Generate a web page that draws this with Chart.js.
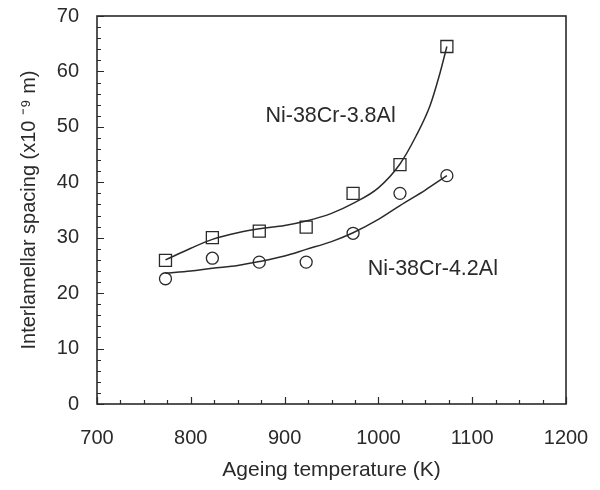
<!DOCTYPE html>
<html lang="en">
<head>
    <meta charset="UTF-8" />
    <title>Interlamellar spacing vs ageing temperature</title>
    <script src="https://cdn.jsdelivr.net/npm/chart.js"></script>
    <style>
        html, body { margin: 0; padding: 0; background: #fff; }
        #wrap { width: 600px; height: 490px; }
    </style>
</head>
<body>
    <div id="wrap"><canvas id="spacingChart" width="600" height="490"></canvas></div>

    <script>
        // ageing temperatures of the measured samples (K)
        const temps = [773, 823, 873, 923, 973, 1023, 1073];
        const al38Points = [25.9, 30.0, 31.2, 31.9, 38.0, 43.2, 64.5];
        const al42Points = [22.6, 26.3, 25.6, 25.6, 30.8, 38.0, 41.2];

        // fitted curves
        const al38CurveT = [773, 800, 823, 850, 873, 900, 923, 950, 973, 1000, 1023, 1040, 1055, 1065, 1073];
        const al38CurveY = [26.0, 28.1, 29.7, 30.9, 31.6, 32.2, 33.0, 34.4, 36.2, 39.0, 43.3, 48.3, 53.8, 59.3, 64.5];
        const al42CurveT = [773, 800, 823, 850, 873, 900, 923, 950, 973, 1000, 1023, 1050, 1073];
        const al42CurveY = [23.6, 24.0, 24.5, 25.0, 25.7, 26.7, 27.9, 29.3, 30.9, 33.3, 35.8, 38.6, 41.2];

        const seriesNames = ["Ni-38Cr-3.8Al", "Ni-38Cr-4.2Al"];
        const labelAt = [[949, 52], [1058, 24.3]];

        const ink = "#2a2a2a";
        const fontFamily = "'Liberation Sans', Arial, sans-serif";

        const toXY = (xs, ys) => xs.map((x, i) => ({ x: x, y: ys[i] }));

        // keep the plot box where the figure has it
        function noOverflow(scale) {
            scale.paddingTop = 0;
            scale.paddingBottom = 0;
            scale.paddingLeft = 0;
            scale.paddingRight = 0;
        }

        // frame, inward ticks and curve labels
        const framePlugin = {
            id: "frame",
            afterDraw(chart) {
                const { ctx, chartArea: a, scales } = chart;
                const xs = scales.x, ys = scales.y;
                ctx.save();
                ctx.strokeStyle = ink;
                ctx.lineWidth = 1.6;
                ctx.strokeRect(a.left, a.top, a.right - a.left, a.bottom - a.top);

                ctx.lineWidth = 1.2;
                ctx.beginPath();
                for (let v = 700; v <= 1200; v += 25) {
                    const px = Math.round(xs.getPixelForValue(v)) + 0.5;
                    const len = v % 100 === 0 ? 7 : 4;
                    ctx.moveTo(px, a.bottom);
                    ctx.lineTo(px, a.bottom - len);
                }
                for (let v = 0; v <= 70; v += 2) {
                    const py = Math.round(ys.getPixelForValue(v)) + 0.5;
                    const len = v % 10 === 0 ? 7 : 4;
                    ctx.moveTo(a.left, py);
                    ctx.lineTo(a.left + len, py);
                }
                ctx.stroke();

                ctx.fillStyle = ink;
                ctx.font = "21.5px " + fontFamily;
                ctx.textAlign = "center";
                ctx.textBaseline = "middle";
                seriesNames.forEach((name, i) => {
                    ctx.fillText(name, xs.getPixelForValue(labelAt[i][0]), ys.getPixelForValue(labelAt[i][1]));
                });
                ctx.restore();
            }
        };

        const ctx = document.getElementById("spacingChart").getContext("2d");
        new Chart(ctx, {
            type: "scatter",
            data: {
                datasets: [
                    {
                        label: seriesNames[0] + " fit",
                        data: toXY(al38CurveT, al38CurveY),
                        showLine: true,
                        borderColor: ink,
                        borderWidth: 1.5,
                        pointRadius: 0,
                        cubicInterpolationMode: "monotone"
                    },
                    {
                        label: seriesNames[1] + " fit",
                        data: toXY(al42CurveT, al42CurveY),
                        showLine: true,
                        borderColor: ink,
                        borderWidth: 1.5,
                        pointRadius: 0,
                        cubicInterpolationMode: "monotone"
                    },
                    {
                        label: seriesNames[0],
                        data: toXY(temps, al38Points),
                        pointStyle: "rect",
                        pointRadius: 8.5,
                        pointBorderWidth: 1.3,
                        pointBorderColor: ink,
                        pointBackgroundColor: "rgba(255,255,255,0)"
                    },
                    {
                        label: seriesNames[1],
                        data: toXY(temps, al42Points),
                        pointStyle: "circle",
                        pointRadius: 6,
                        pointBorderWidth: 1.3,
                        pointBorderColor: ink,
                        pointBackgroundColor: "rgba(255,255,255,0)"
                    }
                ]
            },
            options: {
                responsive: false,
                animation: false,
                layout: { padding: { top: 16, right: 34, left: 0, bottom: 0 } },
                plugins: {
                    legend: { display: false },
                    tooltip: { enabled: false }
                },
                scales: {
                    x: {
                        type: "linear",
                        min: 700,
                        max: 1200,
                        grid: { display: false, drawTicks: false },
                        border: { display: false },
                        ticks: {
                            stepSize: 100,
                            padding: 22,
                            color: ink,
                            font: { family: fontFamily, size: 20 },
                            callback: (v) => String(v)
                        },
                        title: {
                            display: true,
                            text: "Ageing temperature (K)",
                            color: ink,
                            font: { family: fontFamily, size: 21 },
                            padding: { top: 0, bottom: 7 }
                        },
                        afterFit(scale) {
                            scale.height = 86;
                            noOverflow(scale);
                        }
                    },
                    y: {
                        min: 0,
                        max: 70,
                        grid: { display: false, drawTicks: false },
                        border: { display: false },
                        ticks: {
                            stepSize: 10,
                            padding: 18,
                            color: ink,
                            font: { family: fontFamily, size: 20 }
                        },
                        title: {
                            display: true,
                            text: "Interlamellar spacing (x10 \u207B\u2079 m)",
                            color: ink,
                            font: { family: fontFamily, size: 20 },
                            padding: { top: 17, bottom: 0 }
                        },
                        afterFit(scale) {
                            scale.width = 97;
                            noOverflow(scale);
                        }
                    }
                }
            },
            plugins: [framePlugin]
        });
    </script>
</body>
</html>
